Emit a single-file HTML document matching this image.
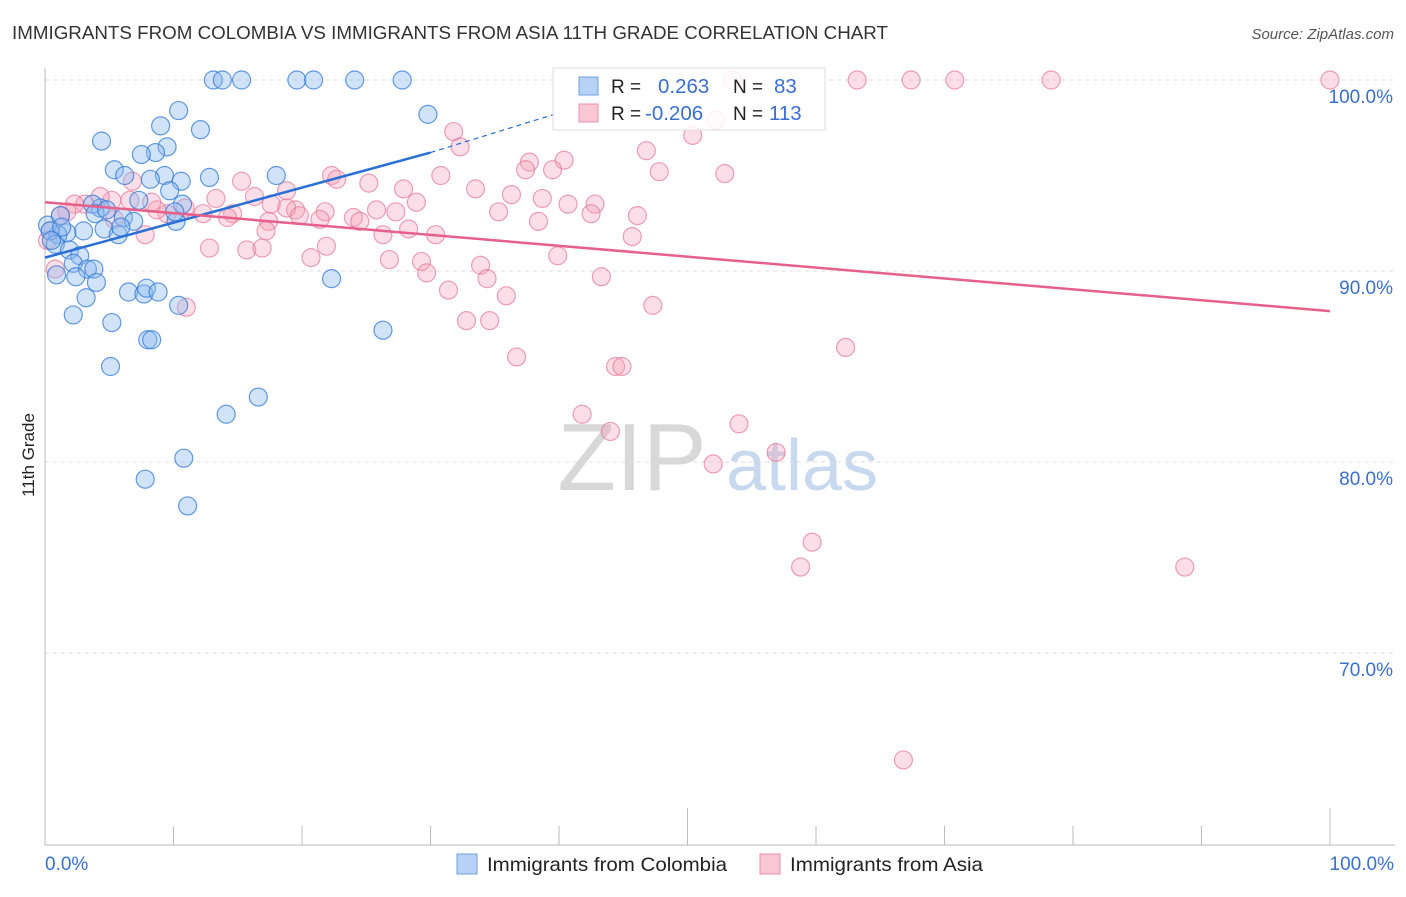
<!DOCTYPE html>
<html><head><meta charset="utf-8"><style>
body{margin:0;background:#fff;font-family:"Liberation Sans",sans-serif}
svg text{font-family:"Liberation Sans",sans-serif}
</style></head><body>
<svg id="chart" width="1406" height="892" viewBox="0 0 1406 892">
<text x="12" y="39" font-size="18.6" fill="#333" textLength="876" lengthAdjust="spacingAndGlyphs">IMMIGRANTS FROM COLOMBIA VS IMMIGRANTS FROM ASIA 11TH GRADE CORRELATION CHART</text>
<text x="1394" y="39" font-size="15" fill="#555" font-style="italic" text-anchor="end">Source: ZipAtlas.com</text>
<g>
<text x="632" y="490" font-size="96" fill="#d8d8d8" font-family="Liberation Serif,serif" text-anchor="middle">ZIP</text>
<text x="802" y="490" font-size="72" fill="#c8d9ef" text-anchor="middle">atlas</text>
</g>
<g id="grid"></g>
<g id="axes"></g>
<g id="pts"></g>
<g id="trends"></g>
<text transform="translate(34,455) rotate(-90)" font-size="17" fill="#222" text-anchor="middle">11th Grade</text>
<g>
<rect x="553" y="68" width="272" height="62" fill="rgba(255,255,255,0.85)" stroke="#ddd"/>
<rect x="579" y="77" width="19" height="18" fill="#b7d2f5" stroke="#6fa0e0"/>
<text x="611" y="93" font-size="19" fill="#222">R =</text><text x="658" y="93" font-size="20.5" fill="#3a6fcf">0.263</text>
<text x="733" y="93" font-size="19" fill="#222">N =</text><text x="774" y="93" font-size="20.5" fill="#3a6fcf">83</text>
<rect x="579" y="104" width="19" height="18" fill="#f8c6d4" stroke="#e890ab"/>
<text x="611" y="120" font-size="19" fill="#222">R =</text><text x="645" y="120" font-size="20.5" fill="#3a6fcf">-0.206</text>
<text x="733" y="120" font-size="19" fill="#222">N =</text><text x="769" y="120" font-size="20.5" fill="#3a6fcf">113</text>
</g>
<g>
<rect x="457" y="854" width="20" height="20" fill="#b7d2f5" stroke="#6fa0e0"/>
<text x="487" y="871" font-size="19.5" fill="#222" textLength="240" lengthAdjust="spacingAndGlyphs">Immigrants from Colombia</text>
<rect x="760" y="854" width="20" height="20" fill="#f8c6d4" stroke="#e890ab"/>
<text x="790" y="871" font-size="19.5" fill="#222" textLength="193" lengthAdjust="spacingAndGlyphs">Immigrants from Asia</text>
</g>
</svg>
<script>
const yTicks=[100,90,80,70];
const yTickLabels=["100.0%","90.0%","80.0%","70.0%"];
const xTickLabels=["0.0%","100.0%"];
const blueX=[13.1,13.8,15.3,19.6,20.9,24.1,27.8,29.8,10.4,9.0,12.1,4.4,9.5,8.6,7.5,5.4,6.2,9.3,10.6,8.2,12.8,18.0,9.7,7.3,4.3,3.7,10.7,10.2,6.1,6.9,4.6,5.7,5.9,3.0,1.7,1.0,0.2,0.4,0.8,1.9,2.7,2.2,3.3,3.8,4.0,2.4,0.9,3.2,6.5,7.7,7.9,8.8,10.4,22.3,2.2,5.2,8.0,8.3,26.3,5.1,16.6,14.1,10.8,7.8,11.1,1.2,1.3,0.5,10.1,3.9,4.8];
const blueY=[100,100,100,100,100,100,100,98.2,98.4,97.6,97.4,96.8,96.5,96.2,96.1,95.3,95.0,95.0,94.7,94.8,94.9,95.0,94.2,93.7,93.3,93.5,93.5,92.6,92.8,92.6,92.2,91.9,92.3,92.1,92.0,91.9,92.4,92.1,91.4,91.1,90.8,90.4,90.1,90.1,89.4,89.7,89.8,88.6,88.9,88.8,89.1,88.9,88.2,89.6,87.7,87.3,86.4,86.4,86.9,85.0,83.4,82.5,80.2,79.1,77.7,92.9,92.3,91.6,93.1,93.0,93.2];
const pinkX=[53.5,63.2,67.4,70.8,78.3,100,52.2,31.8,32.3,46.8,50.4,37.7,37.4,40.4,39.5,47.8,52.9,30.8,33.5,27.9,25.2,22.3,22.7,18.8,15.3,36.3,38.7,42.8,42.5,40.7,35.3,38.4,46.1,45.7,30.4,28.3,28.9,27.3,25.8,26.3,24.0,24.5,21.8,21.4,19.5,18.8,17.4,17.6,16.3,14.6,14.2,13.3,12.3,10.9,9.5,8.7,8.3,6.8,6.6,5.2,4.3,3.1,2.3,1.7,1.2,0.4,7.8,5.4,12.8,15.7,16.9,21.9,20.7,26.8,29.3,29.7,33.9,34.4,39.9,43.3,31.4,35.9,32.8,34.6,36.7,47.3,62.3,44.4,44.9,41.8,44.0,54.0,52.0,56.9,59.7,58.8,88.7,66.8,11.0,0.8,0.2,19.8,17.2];
const pinkY=[100,100,100,100,100,100,97.9,97.3,96.5,96.3,97.1,95.7,95.3,95.8,95.3,95.2,95.1,95.0,94.3,94.3,94.6,95.0,94.8,94.2,94.7,94.0,93.8,93.5,93.0,93.5,93.1,92.6,92.9,91.8,91.9,92.2,93.6,93.1,93.2,91.9,92.8,92.6,93.1,92.7,93.2,93.3,92.6,93.5,93.9,93.0,92.8,93.8,93.0,93.3,93.0,93.2,93.6,94.7,93.7,93.7,93.9,93.5,93.5,93.1,92.9,92.1,91.9,92.7,91.2,91.1,91.2,91.3,90.7,90.6,90.5,89.9,90.3,89.6,90.8,89.7,89.0,88.7,87.4,87.4,85.5,88.2,86.0,85.0,85.0,82.5,81.6,82.0,79.9,80.5,75.8,74.5,74.5,64.4,88.1,90.1,91.6,92.9,92.1];
const blueTrendX=[0,30,40.1];
const blueTrendY=[90.7,96.2,98.3];
const pinkTrendX=[0,100];
const pinkTrendY=[93.6,87.9];

const NS="http://www.w3.org/2000/svg";
const X0=45,X1=1330,Y100=80,PXPER=19.1;
const sx=v=>X0+(X1-X0)*v/100;
const sy=v=>Y100+(100-v)*PXPER;
function mk(tag,attrs,parent){const e=document.createElementNS(NS,tag);for(const k in attrs)e.setAttribute(k,attrs[k]);parent.appendChild(e);return e;}
const grid=document.getElementById('grid'),axes=document.getElementById('axes');
yTicks.forEach((t,i)=>{
  const l=mk('line',{x1:X0,x2:1395,y1:sy(t),y2:sy(t),stroke:'#ddd','stroke-dasharray':'4,4'},grid);
  
  
  const tx=mk('text',{x:1393,y:sy(t)+23,'font-size':19,fill:'#3a6fcf','text-anchor':'end'},axes);
  tx.textContent=yTickLabels[i];
  
  
});
const ya=mk('line',{x1:X0,x2:X0,y1:68,y2:845,stroke:'#bbb'},axes);


const xa=mk('line',{x1:X0,x2:1395,y1:845,y2:845,stroke:'#bbb'},axes);


for(let i=0;i<=10;i++){
  const big=(i==5||i==10);
  const t=mk('line',{x1:sx(i*10),x2:sx(i*10),y1:big?808:826,y2:845,stroke:'#bbb'},axes);
  
  
}
[[0,'start',X0],[100,'end',1394]].forEach((a,i)=>{
  const t=mk('text',{x:a[2],y:870,'font-size':19,fill:'#3a6fcf','text-anchor':a[1]},axes);
  t.textContent=xTickLabels[i];
  
  
});
const pts=document.getElementById('pts');


pinkX.forEach((x,i)=>{
  const c=mk('circle',{cx:sx(x),cy:sy(pinkY[i]),r:9,fill:'rgba(244,160,186,0.35)',stroke:'rgba(230,120,155,0.7)','stroke-width':1.2},pts);
  
  
});
blueX.forEach((x,i)=>{
  const c=mk('circle',{cx:sx(x),cy:sy(blueY[i]),r:9,fill:'rgba(140,185,240,0.4)',stroke:'rgba(50,120,215,0.75)','stroke-width':1.2},pts);
  
  
});
const tr=document.getElementById('trends');
const b1=mk('line',{x1:sx(blueTrendX[0]),y1:sy(blueTrendY[0]),x2:sx(blueTrendX[1]),y2:sy(blueTrendY[1]),stroke:'#2a6fd6','stroke-width':2.5},tr);


const b2=mk('line',{x1:sx(blueTrendX[1]),y1:sy(blueTrendY[1]),x2:sx(blueTrendX[2]),y2:sy(blueTrendY[2]),stroke:'#2a6fd6','stroke-width':1.2,'stroke-dasharray':'5,4'},tr);


const p1=mk('line',{x1:sx(pinkTrendX[0]),y1:sy(pinkTrendY[0]),x2:sx(pinkTrendX[1]),y2:sy(pinkTrendY[1]),stroke:'#e5608a','stroke-width':2.5},tr);


</script>
</body></html>
